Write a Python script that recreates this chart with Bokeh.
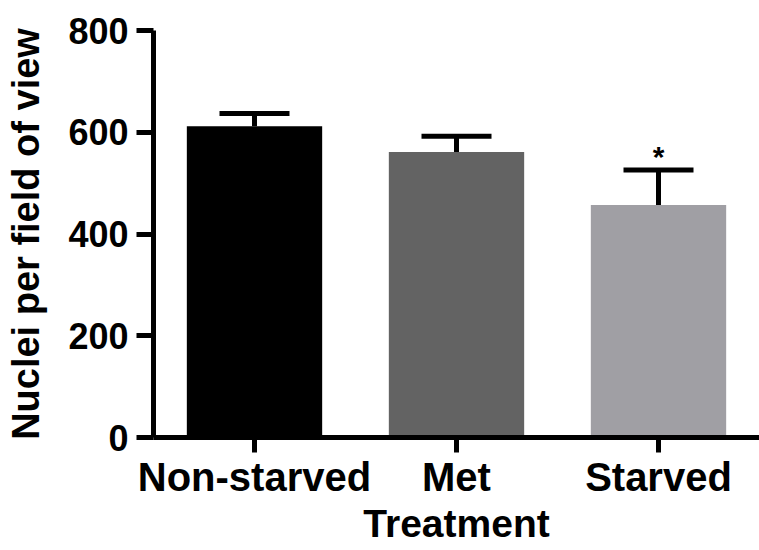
from bokeh.plotting import figure
from bokeh.models import ColumnDataSource, Range1d, FactorRange, FixedTicker, Whisker, TeeHead
from bokeh.core.properties import value
from bokeh.embed import file_html
from bokeh.resources import INLINE

categories = ["Non-starved", "Met", "Starved"]
means = [612, 561, 457]
upper = [637, 592, 526]
colors = ["#000000", "#636363", "#a09fa4"]
marks = ["", "", "*"]
y_ticks = [0, 200, 400, 600, 800]

FONT = "Liberation Sans"

src = ColumnDataSource(dict(cat=categories, mean=means, upper=upper, color=colors, mark=marks))

p = figure(x_range=FactorRange(factors=categories, range_padding=0),
           y_range=Range1d(0, 800),
           width=759, height=550, output_backend="svg", toolbar_location=None,
           min_border_left=153, min_border_right=0, min_border_top=30, min_border_bottom=113)
p.outline_line_color = None
p.xgrid.grid_line_color = None
p.ygrid.grid_line_color = None
p.background_fill_color = "white"
p.border_fill_color = "white"

p.vbar(x="cat", top="mean", bottom=0, width=0.67, fill_color="color", line_color=None, source=src)

w = Whisker(base="cat", lower="mean", upper="upper", source=src, dimension="height",
            line_color="black", line_width=5,
            upper_head=TeeHead(size=70, line_width=5, line_color="black"),
            lower_head=None)
p.add_layout(w)

p.text(x="cat", y="upper", text="mark", source=src, text_align="center",
       text_baseline="alphabetic", y_offset=-13, text_font=value(FONT),
       text_font_size="30px", text_font_style="bold", text_color="black")

for ax in (p.xaxis[0], p.yaxis[0]):
    ax.axis_line_width = 5
    ax.axis_line_color = "black"
    ax.major_tick_line_width = 5
    ax.major_tick_line_color = "black"
    ax.major_tick_in = 0
    ax.minor_tick_line_color = None
    ax.major_label_text_font = FONT
    ax.major_label_text_font_style = "bold"
    ax.major_label_text_color = "black"
    ax.axis_label_text_font = FONT
    ax.axis_label_text_font_style = "bold"
    ax.axis_label_text_color = "black"

p.yaxis.ticker = FixedTicker(ticks=y_ticks)
p.yaxis.major_tick_out = 17
p.yaxis.major_label_text_font_size = "36px"
p.yaxis.major_label_standoff = 8
p.yaxis.axis_label = "Nuclei per field of view"
p.yaxis.axis_label_text_font_size = "38px"
p.yaxis.axis_label_standoff = 18

p.xaxis.major_tick_out = 15
p.xaxis.major_label_text_font_size = "40px"
p.xaxis.major_label_standoff = 2
p.xaxis.axis_label = "Treatment"
p.xaxis.axis_label_text_font_size = "39px"
p.xaxis.axis_label_standoff = 0

open("out.html", "w").write(file_html(p, INLINE))
